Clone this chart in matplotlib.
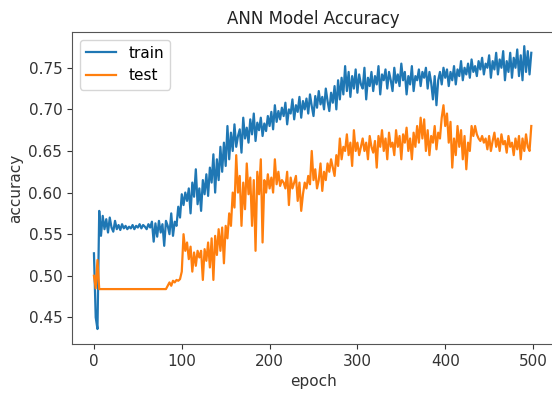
import matplotlib
matplotlib.use("Agg")
import matplotlib.pyplot as plt

epochs = list(range(0, 500, 2))

train_acc = [
    0.527, 0.450, 0.436, 0.578, 0.548, 0.572, 0.556, 0.568, 0.552, 0.570,
    0.558, 0.553, 0.566, 0.556, 0.561, 0.555, 0.562, 0.557, 0.560, 0.556,
    0.559, 0.557, 0.561, 0.556, 0.560, 0.558, 0.562, 0.557, 0.561, 0.559,
    0.556, 0.562, 0.558, 0.565, 0.541, 0.563, 0.547, 0.566, 0.552, 0.562,
    0.536, 0.566, 0.560, 0.550, 0.575, 0.548, 0.565, 0.560, 0.583, 0.570,
    0.598, 0.585, 0.600, 0.590, 0.605, 0.575, 0.612, 0.595, 0.628, 0.586,
    0.605, 0.578, 0.615, 0.598, 0.622, 0.596, 0.630, 0.612, 0.646, 0.600,
    0.640, 0.615, 0.655, 0.625, 0.660, 0.632, 0.680, 0.640, 0.672, 0.650,
    0.682, 0.655, 0.668, 0.676, 0.648, 0.690, 0.665, 0.678, 0.660, 0.688,
    0.670, 0.695, 0.662, 0.684, 0.675, 0.690, 0.668, 0.683, 0.674, 0.692,
    0.680, 0.697, 0.676, 0.705, 0.685, 0.698, 0.688, 0.702, 0.692, 0.708,
    0.682, 0.700, 0.695, 0.712, 0.688, 0.705, 0.697, 0.715, 0.690, 0.710,
    0.700, 0.713, 0.695, 0.718, 0.704, 0.692, 0.716, 0.702, 0.722, 0.706,
    0.715, 0.700, 0.725, 0.710, 0.698, 0.720, 0.708, 0.728, 0.700, 0.735,
    0.712, 0.738, 0.718, 0.752, 0.722, 0.745, 0.715, 0.740, 0.725, 0.748,
    0.720, 0.742, 0.730, 0.725, 0.750, 0.712, 0.738, 0.728, 0.745, 0.722,
    0.740, 0.730, 0.752, 0.718, 0.742, 0.735, 0.748, 0.725, 0.745, 0.735,
    0.722, 0.750, 0.732, 0.742, 0.728, 0.755, 0.735, 0.745, 0.718, 0.740,
    0.730, 0.752, 0.722, 0.740, 0.735, 0.748, 0.728, 0.745, 0.738, 0.750,
    0.725, 0.745, 0.732, 0.712, 0.740, 0.705, 0.735, 0.745, 0.730, 0.750,
    0.738, 0.748, 0.728, 0.745, 0.735, 0.752, 0.730, 0.748, 0.740, 0.758,
    0.735, 0.750, 0.742, 0.755, 0.738, 0.760, 0.745, 0.752, 0.740, 0.758,
    0.748, 0.762, 0.742, 0.755, 0.750, 0.765, 0.738, 0.758, 0.748, 0.768,
    0.742, 0.760, 0.750, 0.770, 0.735, 0.758, 0.745, 0.768, 0.738, 0.762,
    0.750, 0.772, 0.740, 0.765, 0.735, 0.776, 0.745, 0.770, 0.742, 0.768,
]

test_acc = [
    0.500, 0.485, 0.519, 0.484, 0.484, 0.484, 0.484, 0.484, 0.484, 0.484,
    0.484, 0.484, 0.484, 0.484, 0.484, 0.484, 0.484, 0.484, 0.484, 0.484,
    0.484, 0.484, 0.484, 0.484, 0.484, 0.484, 0.484, 0.484, 0.484, 0.484,
    0.484, 0.484, 0.484, 0.484, 0.484, 0.484, 0.484, 0.484, 0.484, 0.484,
    0.484, 0.484, 0.488, 0.492, 0.488, 0.494, 0.492, 0.495, 0.494, 0.496,
    0.505, 0.550, 0.530, 0.540, 0.520, 0.535, 0.505, 0.528, 0.512, 0.530,
    0.522, 0.530, 0.495, 0.532, 0.518, 0.540, 0.510, 0.545, 0.495, 0.548,
    0.525, 0.556, 0.530, 0.558, 0.515, 0.560, 0.545, 0.575, 0.560, 0.600,
    0.582, 0.645, 0.600, 0.620, 0.560, 0.612, 0.580, 0.635, 0.598, 0.618,
    0.560, 0.615, 0.530, 0.625, 0.598, 0.640, 0.540, 0.615, 0.600, 0.622,
    0.605, 0.618, 0.600, 0.640, 0.610, 0.625, 0.608, 0.615, 0.612, 0.605,
    0.625, 0.585, 0.618, 0.605, 0.612, 0.620, 0.590, 0.612, 0.578, 0.598,
    0.612, 0.605, 0.620, 0.610, 0.650, 0.615, 0.628, 0.605, 0.615, 0.635,
    0.602, 0.625, 0.615, 0.635, 0.625, 0.640, 0.630, 0.620, 0.645, 0.632,
    0.665, 0.640, 0.655, 0.650, 0.670, 0.645, 0.660, 0.632, 0.675, 0.650,
    0.660, 0.645, 0.655, 0.665, 0.650, 0.660, 0.640, 0.668, 0.655, 0.648,
    0.662, 0.630, 0.668, 0.655, 0.675, 0.650, 0.665, 0.640, 0.672, 0.655,
    0.660, 0.645, 0.675, 0.655, 0.668, 0.640, 0.670, 0.660, 0.678, 0.650,
    0.665, 0.640, 0.672, 0.655, 0.680, 0.660, 0.690, 0.665, 0.688, 0.650,
    0.675, 0.645, 0.668, 0.660, 0.680, 0.652, 0.672, 0.665, 0.690, 0.705,
    0.680, 0.695, 0.660, 0.685, 0.630, 0.665, 0.645, 0.680, 0.655, 0.675,
    0.640, 0.668, 0.628, 0.660, 0.650, 0.680, 0.668, 0.680, 0.670, 0.665,
    0.662, 0.668, 0.660, 0.665, 0.652, 0.668, 0.650, 0.662, 0.672, 0.655,
    0.665, 0.650, 0.670, 0.658, 0.662, 0.648, 0.668, 0.655, 0.660, 0.645,
    0.665, 0.652, 0.668, 0.640, 0.665, 0.650, 0.670, 0.655, 0.650, 0.680,
]

title = "ANN Model Accuracy"
x_label = "epoch"
y_label = "accuracy"
series_names = ["train", "test"]

fs = 11
fig = plt.figure(figsize=(5.52, 3.96), dpi=100)
ax = fig.add_axes([72 / 552, 52 / 396, 483 / 552, 312 / 396])
ax.plot(epochs, train_acc, color="#1f77b4", linewidth=1.6, label=series_names[0])
ax.plot(epochs, test_acc, color="#ff7f0e", linewidth=1.6, label=series_names[1])
ax.set_xlim(-25, 525)
ax.set_ylim(0.418, 0.793)
ax.set_xticks([0, 100, 200, 300, 400, 500])
ax.set_yticks([0.45, 0.50, 0.55, 0.60, 0.65, 0.70, 0.75])
ax.tick_params(labelsize=fs, colors="#333333")
for s in ax.spines.values():
    s.set_color("#555555")
ax.set_title(title, fontsize=fs + 1, color="#222222")
ax.set_xlabel(x_label, fontsize=fs, color="#333333")
ax.set_ylabel(y_label, fontsize=fs, color="#333333")
ax.legend(loc="upper left", fontsize=fs)
fig.savefig("out.png", dpi=100)
